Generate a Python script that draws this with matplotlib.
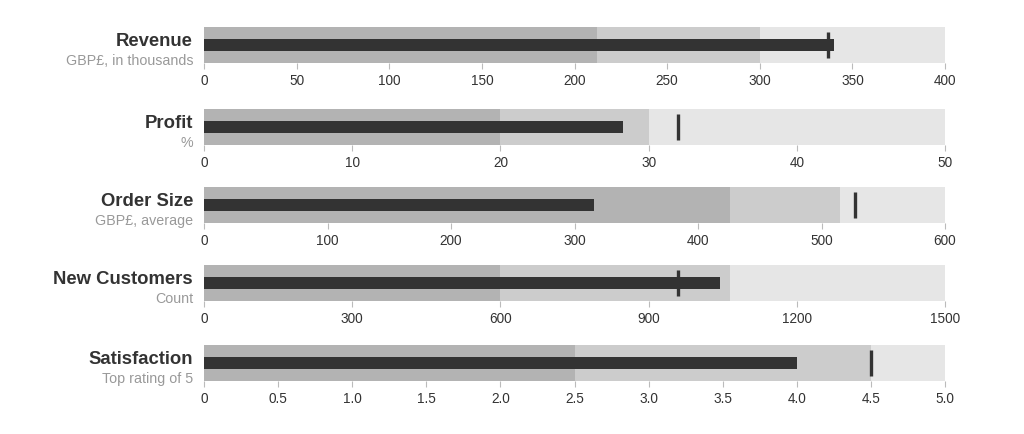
import matplotlib
matplotlib.use("Agg")
import matplotlib.pyplot as plt

plt.rcParams['font.family'] = ['Liberation Sans', 'DejaVu Sans']

# bullet chart data
titles = ['Revenue', 'Profit', 'Order Size', 'New Customers', 'Satisfaction']
subtitles = ['GBP£, in thousands', '%', 'GBP£, average', 'Count', 'Top rating of 5']
ranges = [
    [212, 300, 400],
    [20, 30, 50],
    [426, 515, 600],
    [600, 1065, 1500],
    [2.5, 4.5, 5.0],
]
measures = [340, 28.3, 316, 1045, 4.0]
markers = [337, 32, 527, 960, 4.5]
ticks = [
    [0, 50, 100, 150, 200, 250, 300, 350, 400],
    [0, 10, 20, 30, 40, 50],
    [0, 100, 200, 300, 400, 500, 600],
    [0, 300, 600, 900, 1200, 1500],
    [0, 0.5, 1.0, 1.5, 2.0, 2.5, 3.0, 3.5, 4.0, 4.5, 5.0],
]
tick_labels = [
    ['0', '50', '100', '150', '200', '250', '300', '350', '400'],
    ['0', '10', '20', '30', '40', '50'],
    ['0', '100', '200', '300', '400', '500', '600'],
    ['0', '300', '600', '900', '1200', '1500'],
    ['0', '0.5', '1.0', '1.5', '2.0', '2.5', '3.0', '3.5', '4.0', '4.5', '5.0'],
]

range_colors = ['#b3b3b3', '#cccccc', '#e6e6e6']  # dark -> light
W, H = 1024, 435
row_tops = [27.5, 109.5, 187.5, 265.5, 345.5]  # pixels from top
row_h = 36.5

fig = plt.figure(figsize=(W / 100, H / 100), dpi=100)

for i in range(len(titles)):
    ax = fig.add_axes([204 / W, 1 - (row_tops[i] + row_h) / H, 741 / W, row_h / H])

    # ranges, largest first so smaller ones sit on top
    for r, c in sorted(zip(ranges[i], range_colors), reverse=True):
        ax.barh(0, r, height=1.0, color=c, edgecolor='none')

    ax.barh(0, measures[i], height=0.34, color='#333333', edgecolor='none', zorder=3)
    ax.plot([markers[i], markers[i]], [-0.36, 0.36], color='#333333',
            linewidth=2.4, solid_capstyle='butt', zorder=4)

    ax.set_xlim(0, ranges[i][-1])
    ax.set_ylim(-0.5, 0.5)
    for s in ax.spines.values():
        s.set_visible(False)
    ax.set_yticks([])
    ax.set_xticks(ticks[i])
    ax.set_xticklabels(tick_labels[i])
    ax.tick_params(axis='x', length=4.5, width=0.8, color='#bbbbbb',
                   labelcolor='#333333', labelsize=9.8, pad=3)

    ax.annotate(titles[i], xy=(0, 0.5), xycoords='axes fraction',
                xytext=(-11, 0), textcoords='offset pixels',
                ha='right', va='baseline', fontsize=13.3, fontweight='bold',
                color='#333333')
    ax.annotate(subtitles[i], xy=(0, 0.0), xycoords='axes fraction',
                xytext=(-11, -1), textcoords='offset pixels',
                ha='right', va='baseline', fontsize=10.3, color='#999999')

fig.savefig('out.png', dpi=100, facecolor='white')
